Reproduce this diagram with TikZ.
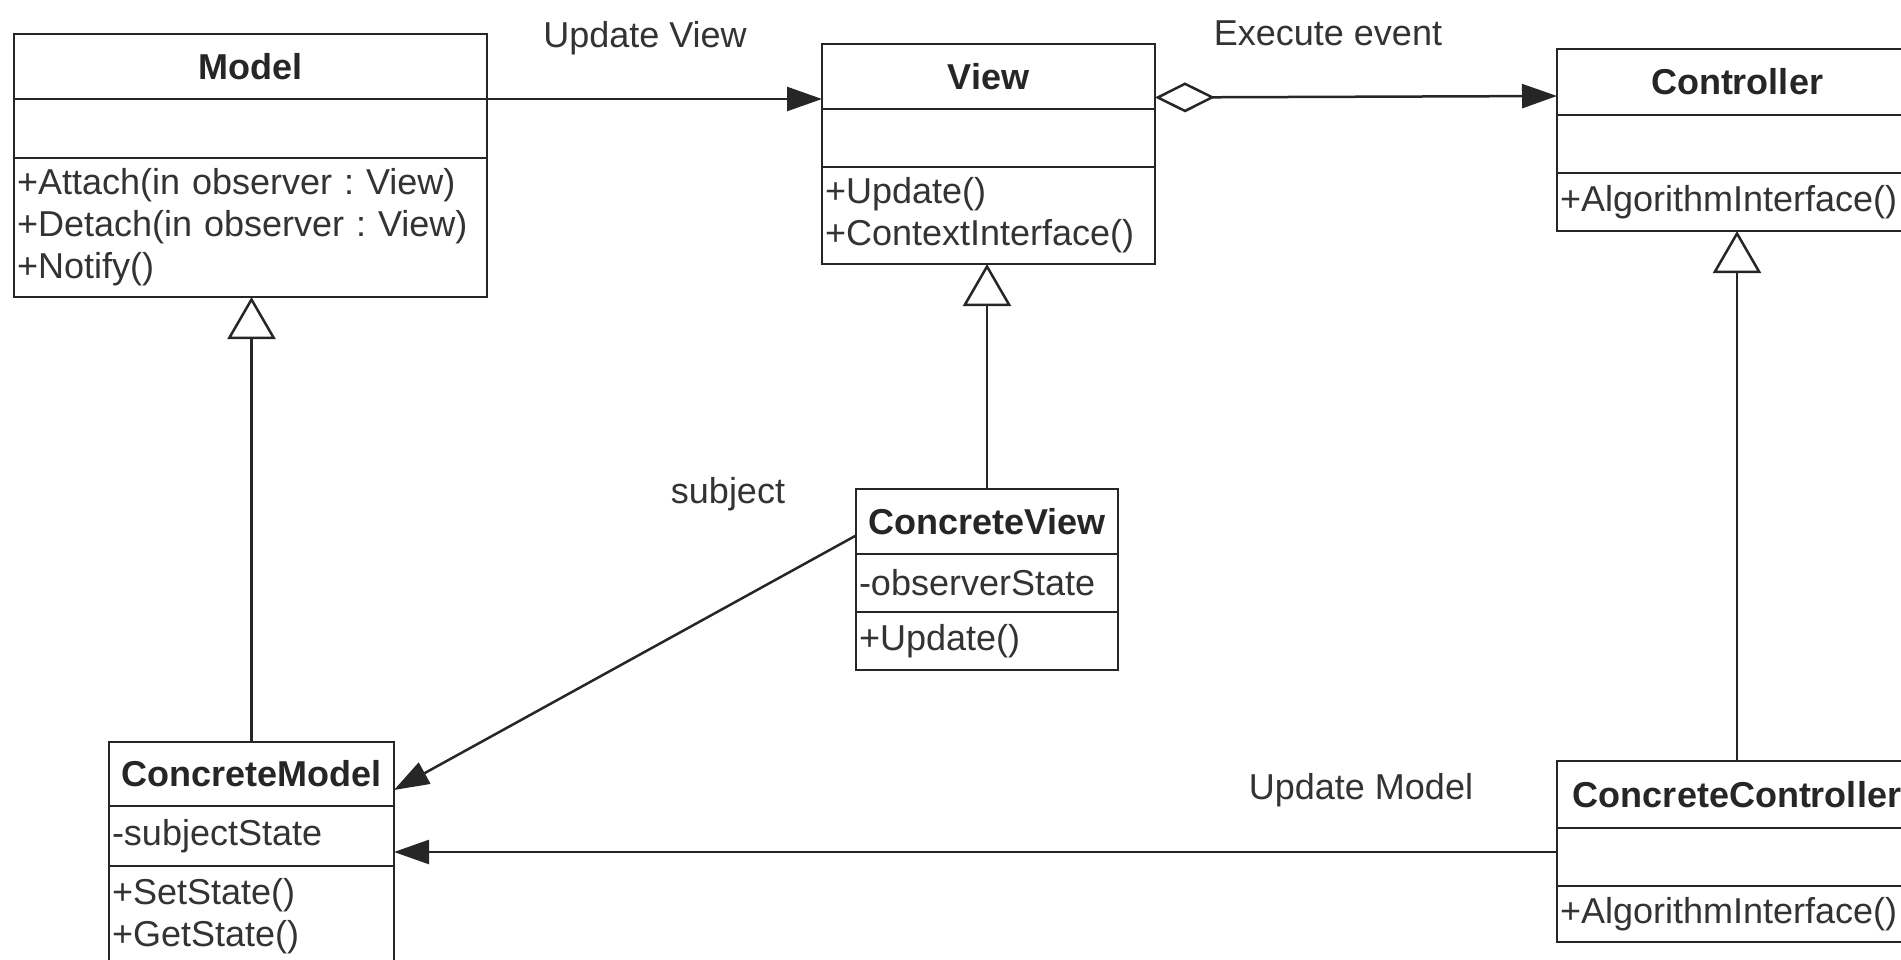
\documentclass[tikz,border=0pt]{standalone}
\usepackage{fontspec}
\setmainfont{Liberation Sans}
\frenchspacing
\usetikzlibrary{arrows.meta,calc,positioning}
\tikzset{
  clshead/.style={draw=black!85, line width=2.5pt, outer sep=0pt, inner xsep=3pt, inner ysep=0pt, anchor=north west, align=center, font=\fontsize{36}{42}\selectfont\bfseries, text=black!85},
  clsbody/.style={draw=black!85, line width=2.5pt, outer sep=0pt, inner xsep=3pt, inner ysep=0pt, align=left, font=\fontsize{36}{42}\selectfont, text=black!80},
  gen/.style={draw=black!85, line width=2.5pt, -{Triangle[open, fill=white, length=42pt, width=48pt]}},
  assoc/.style={draw=black!85, line width=2.5pt, -{Triangle[length=35pt, width=24pt]}},
  agg/.style={draw=black!85, line width=2.5pt, {Diamond[open, fill=white, length=60pt, width=30pt]}-{Triangle[length=35pt, width=24pt]}},
  lbl/.style={font=\fontsize{36}{42}\selectfont, text=black!80, inner sep=0pt},
}

\begin{document}
\begin{tikzpicture}[x=1pt, y=1pt]
	%%%%% START %%%%%
	\useasboundingbox (0,0) rectangle (1901,-960);
	
	% Model
	\node[clshead, text width=467pt, minimum height=65pt] (model) at (14,-34) {Model};
	\node[clsbody, text width=467pt, minimum height=59pt, below=0pt of model] (model-attr) {};
	\node[clsbody, text width=467pt, minimum height=139pt, below=0pt of model-attr] (model-ops) {+Attach(in observer : View)\\+Detach(in observer : View)\\+Notify()};
	
	% View
	\node[clshead, text width=327pt, minimum height=65pt] (view) at (822,-44) {View};
	\node[clsbody, text width=327pt, minimum height=58pt, below=0pt of view] (view-attr) {};
	\node[clsbody, text width=327pt, minimum height=97pt, below=0pt of view-attr] (view-ops) {+Update()\\+ContextInterface()};
	
	% Controller
	\node[clshead, text width=354pt, minimum height=66pt] (ctrl) at (1557,-49) {Controller};
	\node[clsbody, text width=354pt, minimum height=58pt, below=0pt of ctrl] (ctrl-attr) {};
	\node[clsbody, text width=354pt, minimum height=58pt, below=0pt of ctrl-attr] (ctrl-ops) {+AlgorithmInterface()};
	
	% ConcreteView
	\node[clshead, text width=256pt, minimum height=65pt] (cview) at (856,-489) {ConcreteView};
	\node[clsbody, text width=256pt, minimum height=58pt, below=0pt of cview] (cview-attr) {-observerState};
	\node[clsbody, text width=256pt, minimum height=58pt, below=0pt of cview-attr] (cview-ops) {+Update()};
	
	% ConcreteModel
	\node[clshead, text width=279pt, minimum height=64pt] (cmodel) at (109,-742) {ConcreteModel};
	\node[clsbody, text width=279pt, minimum height=60pt, below=0pt of cmodel] (cmodel-attr) {-subjectState};
	\node[clsbody, text width=279pt, minimum height=100pt, below=0pt of cmodel-attr] (cmodel-ops) {+SetState()\\+GetState()};
	
	% ConcreteController
	\node[clshead, text width=354pt, minimum height=67pt] (cctrl) at (1557,-761) {ConcreteController};
	\node[clsbody, text width=354pt, minimum height=58pt, below=0pt of cctrl] (cctrl-attr) {};
	\node[clsbody, text width=354pt, minimum height=56pt, below=0pt of cctrl-attr] (cctrl-ops) {+AlgorithmInterface()};
	
	% inheritance
	\draw[gen] (cmodel.north) -- (cmodel.north |- model-ops.south);
	\draw[gen] (cview.north) -- (cview.north |- view-ops.south);
	\draw[gen] (cctrl.north) -- (cctrl.north |- ctrl-ops.south);
	
	% associations
	\draw[assoc] (model.south east) -- (model.south east -| view.west);
	\draw[agg] ($(view.east)+(0,-21)$) -- ($(ctrl.west)+(0,-14)$);
	\draw[assoc] ($(cview.west)+(0,-14)$) -- ($(cmodel.east)+(0,-16)$);
	\coordinate (upd) at ($(cctrl-attr.west)+(0,5)$);
	\draw[assoc] (upd) -- (upd -| cmodel-attr.east);
	
	% labels
	\node[lbl] (updview) at (645,-38) {Update View};
	\node[lbl] (exec) at (1328,-33) {Execute event};
	\node[lbl] (subj) at (728,-494) {subject};
	\node[lbl] (updmodel) at (1361,-790) {Update Model};
	
	%%%%% END %%%%%
\end{tikzpicture}
\end{document}
